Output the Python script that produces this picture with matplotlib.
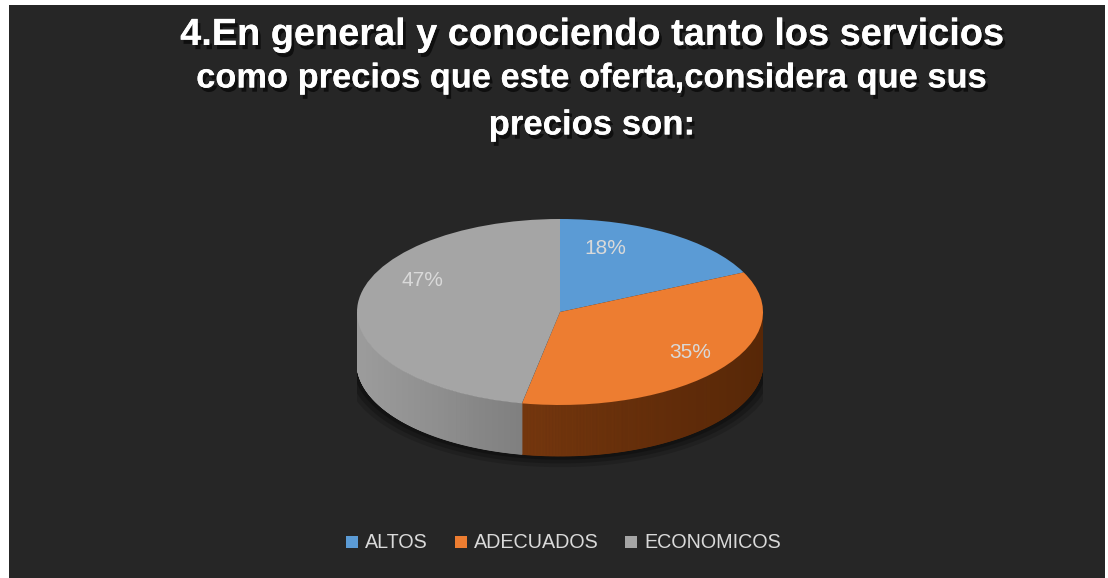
import matplotlib
matplotlib.use("Agg")
import matplotlib.pyplot as plt
import matplotlib.patheffects as pe
import numpy as np
from matplotlib.patches import Rectangle

# data
categories = ["ALTOS", "ADECUADOS", "ECONOMICOS"]
shares = [18, 35, 47]
top_colors = ["#5b9bd5", "#ed7d31", "#a5a5a5"]
title_lines = ["4.En general y conociendo tanto los servicios",
               "como precios que este oferta,considera que sus",
               "precios son:"]

bg = "#262626"
W, H = 1108, 578

fig = plt.figure(figsize=(W / 100, H / 100), dpi=100, facecolor="white")
fig.patches.append(Rectangle((9 / W, 0), (1105 - 9) / W, (H - 5) / H,
                             transform=fig.transFigure, facecolor=bg,
                             edgecolor="none", zorder=-10))

# title, one text per line
shadow = [pe.withSimplePatchShadow(offset=(2, -3), shadow_rgbFace="black", alpha=0.6), pe.Normal()]
title_y = [35, 79, 125]
title_size = [27.3, 24.8, 25]
for line, yp, fs in zip(title_lines, title_y, title_size):
    fig.text(592 / W, 1 - yp / H, line, ha="center", va="center", color="white",
             fontsize=fs, fontweight="bold", family="Liberation Sans",
             path_effects=shadow, zorder=5)

# pie geometry (pixels): centre (560, 312), rx 203, ry 93, depth 51
cx, cy, rx, ry, depth = 560, 312, 203, 93, 51
y_lo, y_hi = -1.8, 1.08
ax = fig.add_axes([(cx - rx) / W, 1 - (cy - y_lo * ry) / H,
                   2 * rx / W, (y_hi - y_lo) * ry / H], zorder=2)
ax.patch.set_visible(False)

d = depth / ry

# slice angles, clockwise from 12 o'clock
fracs = np.array(shares) / sum(shares)
ends = 90 - 360 * np.cumsum(fracs)
starts = np.concatenate([[90], ends[:-1]])

# soft shadow under the pie
for k, a in zip([0.06, 0.04, 0.02], [0.15, 0.2, 0.25]):
    th = np.radians(np.linspace(180, 360, 200))
    ax.fill(np.concatenate([np.cos(th) * (1 + k), [1 + k]]),
            np.concatenate([np.sin(th) * (1 + k) - d - k, [0]]),
            color="black", alpha=a, lw=0, zorder=1)

# side of the cylinder (front half only), shaded strips
side_dark = {"#5b9bd5": ("#3d6f9e", "#24486b"),
             "#ed7d31": ("#8a4212", "#572707"),
             "#a5a5a5": ("#9c9c9c", "#585858")}
n = 300
for s, e, c in zip(starts, ends, top_colors):
    a0, a1 = max(e, -180), min(s, 0)
    if a0 >= a1:
        continue
    th = np.radians(np.linspace(a1, a0, n))
    xs = np.cos(th)
    ys = np.sin(th)
    light, dark = side_dark[c]
    cl = np.array(matplotlib.colors.to_rgb(light))
    cd = np.array(matplotlib.colors.to_rgb(dark))
    for i in range(n - 1):
        xm = 0.5 * (xs[i] + xs[i + 1])
        t = (xm + 1) / 2
        col = cl * (1 - t) + cd * t
        ax.fill([xs[i], xs[i + 1], xs[i + 1], xs[i]],
                [ys[i], ys[i + 1], ys[i + 1] - d, ys[i] - d],
                color=col, lw=0.6, ec=col, zorder=2)

# top face
wedges, _ = ax.pie(shares, colors=top_colors, startangle=90, counterclock=False,
                   radius=1.0, wedgeprops=dict(linewidth=0, zorder=3))
ax.set_aspect("auto")
ax.set_xlim(-1, 1)
ax.set_ylim(y_lo, y_hi)
ax.axis("off")

# percentage labels
label_pos = [(605, 248), (690, 352), (422, 280)]
for v, (px, py) in zip(shares, label_pos):
    fig.text(px / W, 1 - py / H, f"{v}%", ha="center", va="center",
             color="#d9d9d9", fontsize=15, family="Liberation Sans", zorder=5)

# legend
leg_x = [346, 455, 625]
for name, c, lx in zip(categories, top_colors, leg_x):
    fig.patches.append(Rectangle((lx / W, 1 - 548 / H), 12 / W, 12 / H,
                                 transform=fig.transFigure, facecolor=c,
                                 edgecolor="none", zorder=5))
    fig.text((lx + 19) / W, 1 - 542 / H, name, ha="left", va="center",
             color="#d9d9d9", fontsize=14.2, family="Liberation Sans", zorder=5)

fig.savefig("out.png", dpi=100, facecolor="white")
